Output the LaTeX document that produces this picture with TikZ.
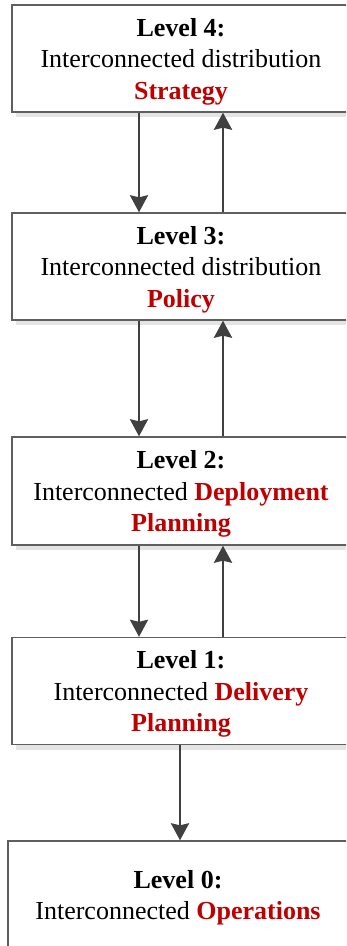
\documentclass[tikz,border=0pt]{standalone}
\usepackage{fontspec}
\setmainfont{Liberation Serif}
\usetikzlibrary{arrows.meta}
\definecolor{boxline}{HTML}{5F5F5F}
\definecolor{arrowc}{HTML}{404040}
\definecolor{redt}{HTML}{C00000}
\definecolor{shadowc}{HTML}{E4E4E4}
\newcommand{\rb}[1]{\textcolor{redt}{\textbf{#1}}}
\newcommand{\lowstrut}{\rule{0pt}{24pt}}
\begin{document}
\begin{tikzpicture}[x=1pt,y=-1pt,
  lvlbox/.style={draw=boxline, line width=1.4pt, fill=white, rectangle, inner sep=0pt,
    align=center, font=\fontsize{26}{31.5}\selectfont},
  arr/.style={draw=arrowc, line width=2.6pt, -{Stealth[width=18pt,length=17pt,inset=2pt]}}
]
\useasboundingbox (0,0) rectangle (346,946);
\clip (0,0) rectangle (346,946);
\fill[white] (0,0) rectangle (346,946);
% shadows
\fill[shadowc] (16,9) rectangle (354,117);
\fill[shadowc] (16,217) rectangle (354,325);
\fill[shadowc] (16,441) rectangle (354,550);
\fill[shadowc] (16,641) rectangle (354,750);
\fill[shadowc] (12,845) rectangle (352,952);
% boxes
\node[lvlbox, minimum width=338pt, minimum height=107pt] (l4) at (181,58.5)
  {\lowstrut\textbf{Level 4:}\\Interconnected distribution\\\rb{Strategy}};
\node[lvlbox, minimum width=338pt, minimum height=107pt] (l3) at (181,266.5)
  {\lowstrut\textbf{Level 3:}\\Interconnected distribution\\\rb{Policy}};
\node[lvlbox, minimum width=338pt, minimum height=108pt] (l2) at (181,491)
  {\lowstrut\textbf{Level 2:}\\Interconnected \rb{Deployment}\\\rb{Planning}};
\node[lvlbox, minimum width=338pt, minimum height=107pt] (l1) at (181,691)
  {\lowstrut\textbf{Level 1:}\\Interconnected \rb{Delivery}\\\rb{Planning}};
\node[lvlbox, minimum width=340pt, minimum height=108pt] (l0) at (178,895)
  {\lowstrut\textbf{Level 0:}\\Interconnected \rb{Operations}};
% connector columns
\coordinate (cd) at (139,0);
\coordinate (cu) at (223,0);
\coordinate (cz) at (180,0);
\draw[arr] (l4.south -| cd) -- (l3.north -| cd);
\draw[arr] (l3.north -| cu) -- (l4.south -| cu);
\draw[arr] (l3.south -| cd) -- (l2.north -| cd);
\draw[arr] (l2.north -| cu) -- (l3.south -| cu);
\draw[arr] (l2.south -| cd) -- (l1.north -| cd);
\draw[arr] (l1.north -| cu) -- (l2.south -| cu);
\draw[arr] (l1.south -| cz) -- (l0.north -| cz);
\end{tikzpicture}
\end{document}
